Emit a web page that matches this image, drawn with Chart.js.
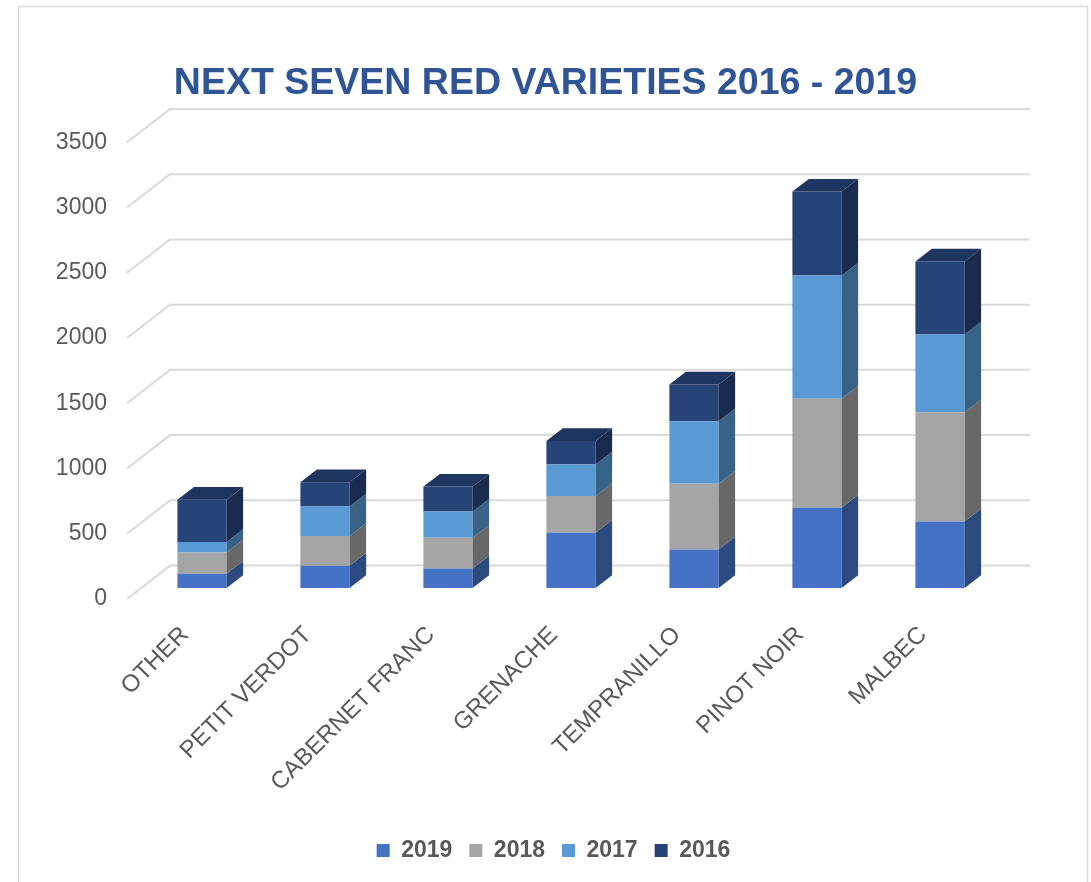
<!DOCTYPE html>
<html>
<head>
<meta charset="utf-8">
<script src="https://cdn.jsdelivr.net/npm/chart.js@4/dist/chart.umd.min.js"></script>
<style>
  html, body { margin: 0; padding: 0; background: #fff; }
  #wrap { width: 1091px; height: 882px; }
</style>
</head>
<body>
<div id="wrap"><canvas id="chart" width="1091" height="882"></canvas></div>
<script>
const categories = ["OTHER", "PETIT VERDOT", "CABERNET FRANC", "GRENACHE", "TEMPRANILLO", "PINOT NOIR", "MALBEC"];
const years = ["2019", "2018", "2017", "2016"];
const values2019 = [110, 171, 150, 423, 296, 615, 510];
const values2018 = [163, 227, 235, 283, 503, 836, 836];
const values2017 = [79, 227, 201, 240, 479, 944, 597];
const values2016 = [324, 186, 191, 181, 281, 643, 559];
const yTicks = [0, 500, 1000, 1500, 2000, 2500, 3000, 3500];

const frontColors = ["#4472C4", "#A5A5A5", "#5B9BD5", "#264478"];
const sideColors = ["#2B4A80", "#686868", "#386387", "#192B4F"];
const topColor = "#1E3560";
const fontFamily = "'Liberation Sans', Arial, sans-serif";
const textColor = "#595959";

// oblique depth of the bars and of the floor / back wall
const bar3d = { dx: 16.5, dy: 12.7 };
const wall = { frontX: -13.5, frontY: 11, backX: 29.5, backY: -22.4, rightX: 28.5 };

const framePlugin = {
  id: "frame",
  beforeDraw(chart) {
    const { ctx } = chart;
    ctx.save();
    ctx.fillStyle = "#fff";
    ctx.fillRect(0, 0, chart.width, chart.height);
    ctx.strokeStyle = "#d9d9d9";
    ctx.lineWidth = 1.5;
    ctx.strokeRect(18.5, 6.5, 1069, 900);
    ctx.restore();
  },
  afterLayout(chart) {
    // the original legend sits a little right of centre
    chart.legend.left += 8;
    chart.legend.right += 8;
  },
};

const wallGridPlugin = {
  id: "wallGrid",
  beforeDatasetsDraw(chart) {
    const { ctx, chartArea } = chart;
    const y = chart.scales.y;
    ctx.save();
    ctx.strokeStyle = "#d9d9d9";
    ctx.lineWidth = 2;
    y.ticks.forEach((t) => {
      const py = y.getPixelForValue(t.value);
      ctx.beginPath();
      ctx.moveTo(chartArea.left + wall.frontX, py + wall.frontY);
      ctx.lineTo(chartArea.left + wall.backX, py + wall.backY);
      ctx.lineTo(chartArea.right + wall.rightX, py + wall.backY);
      ctx.stroke();
    });
    ctx.restore();
  },
};

const bar3dPlugin = {
  id: "bar3d",
  afterDatasetsDraw(chart) {
    const { ctx } = chart;
    const last = chart.data.datasets.length - 1;
    ctx.save();
    chart.data.datasets.forEach((ds, i) => {
      const meta = chart.getDatasetMeta(i);
      meta.data.forEach((bar) => {
        const { x, y, base, width } = bar.getProps(["x", "y", "base", "width"], true);
        const left = x - width / 2;
        const right = x + width / 2;
        ctx.fillStyle = sideColors[i];
        ctx.beginPath();
        ctx.moveTo(right, y);
        ctx.lineTo(right + bar3d.dx, y - bar3d.dy);
        ctx.lineTo(right + bar3d.dx, base - bar3d.dy);
        ctx.lineTo(right, base);
        ctx.closePath();
        ctx.fill();
        if (i === last) {
          ctx.fillStyle = topColor;
          ctx.beginPath();
          ctx.moveTo(left, y);
          ctx.lineTo(left + bar3d.dx, y - bar3d.dy);
          ctx.lineTo(right + bar3d.dx, y - bar3d.dy);
          ctx.lineTo(right, y);
          ctx.closePath();
          ctx.fill();
        }
      });
    });
    ctx.restore();
  },
};

const series = [values2019, values2018, values2017, values2016];

new Chart(document.getElementById("chart"), {
  type: "bar",
  data: {
    labels: categories,
    datasets: series.map((data, i) => ({
      label: years[i],
      data,
      backgroundColor: frontColors[i],
      borderWidth: 0,
      barPercentage: 0.4,
      categoryPercentage: 1,
    })),
  },
  options: {
    responsive: false,
    animation: false,
    devicePixelRatio: 1,
    layout: { padding: { left: 0, right: 0, top: 0, bottom: 10 } },
    scales: {
      x: {
        stacked: true,
        grid: { display: false, drawTicks: false },
        border: { display: false },
        ticks: {
          autoSkip: false,
          maxRotation: 45,
          minRotation: 45,
          padding: 33,
          labelOffset: -17,
          color: textColor,
          font: { family: fontFamily, size: 24 },
        },
        afterFit(scale) {
          scale.height = 234;
        },
      },
      y: {
        stacked: true,
        min: 0,
        max: 3500,
        grid: { display: false, drawTicks: false },
        border: { display: false },
        afterBuildTicks(scale) {
          scale.ticks = yTicks.map((v) => ({ value: v }));
        },
        ticks: {
          padding: 33.5,
          labelOffset: 11,
          color: textColor,
          font: { family: fontFamily, size: 23 },
          callback: (v) => String(v),
        },
        afterFit(scale) {
          scale.width = 140.5;
        },
      },
      // empty right-hand axis, only keeps room for the back wall
      yRight: {
        type: "linear",
        position: "right",
        grid: { display: false, drawTicks: false },
        border: { display: false },
        ticks: { display: false },
        afterFit(scale) {
          scale.width = 89.5;
        },
      },
    },
    plugins: {
      title: {
        display: true,
        text: "NEXT SEVEN RED VARIETIES 2016 - 2019",
        color: "#2F5597",
        font: { family: fontFamily, size: 37.5, weight: "bold" },
        padding: { top: 61, bottom: 25.3 },
      },
      legend: {
        position: "bottom",
        labels: {
          boxWidth: 13,
          boxHeight: 13,
          padding: 17,
          color: textColor,
          font: { family: fontFamily, size: 23, weight: "bold" },
        },
      },
      tooltip: { enabled: false },
    },
  },
  plugins: [framePlugin, wallGridPlugin, bar3dPlugin],
});
</script>
</body>
</html>
